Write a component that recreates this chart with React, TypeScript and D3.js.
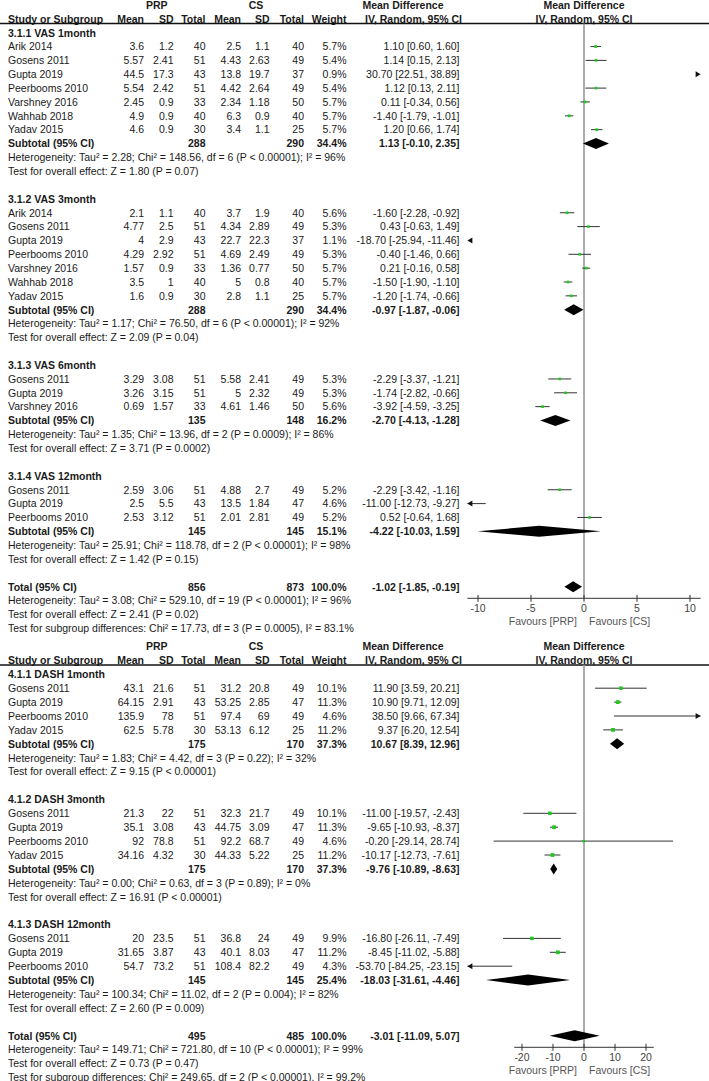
import React from 'react';
import * as d3 from 'd3';

// [study, PRP mean, PRP sd, PRP n, CS mean, CS sd, CS n, weight %, MD, lo, hi]
type Study = [string, number, number, number, number, number, number, number, number, number, number];
// [PRP n, CS n, weight %, MD, lo, hi]
type Sub = [number, number, number, number, number, number];

const vasTitles = ['3.1.1 VAS 1month', '3.1.2 VAS 3month', '3.1.3 VAS 6month', '3.1.4 VAS 12month'];

const vas1: Study[] = [
  ['Arik 2014', 3.6, 1.2, 40, 2.5, 1.1, 40, 5.7, 1.10, 0.60, 1.60],
  ['Gosens 2011', 5.57, 2.41, 51, 4.43, 2.63, 49, 5.4, 1.14, 0.15, 2.13],
  ['Gupta 2019', 44.5, 17.3, 43, 13.8, 19.7, 37, 0.9, 30.70, 22.51, 38.89],
  ['Peerbooms 2010', 5.54, 2.42, 51, 4.42, 2.64, 49, 5.4, 1.12, 0.13, 2.11],
  ['Varshney 2016', 2.45, 0.9, 33, 2.34, 1.18, 50, 5.7, 0.11, -0.34, 0.56],
  ['Wahhab 2018', 4.9, 0.9, 40, 6.3, 0.9, 40, 5.7, -1.40, -1.79, -1.01],
  ['Yadav 2015', 4.6, 0.9, 30, 3.4, 1.1, 25, 5.7, 1.20, 0.66, 1.74],
];
const vas3: Study[] = [
  ['Arik 2014', 2.1, 1.1, 40, 3.7, 1.9, 40, 5.6, -1.60, -2.28, -0.92],
  ['Gosens 2011', 4.77, 2.5, 51, 4.34, 2.89, 49, 5.3, 0.43, -0.63, 1.49],
  ['Gupta 2019', 4, 2.9, 43, 22.7, 22.3, 37, 1.1, -18.70, -25.94, -11.46],
  ['Peerbooms 2010', 4.29, 2.92, 51, 4.69, 2.49, 49, 5.3, -0.40, -1.46, 0.66],
  ['Varshney 2016', 1.57, 0.9, 33, 1.36, 0.77, 50, 5.7, 0.21, -0.16, 0.58],
  ['Wahhab 2018', 3.5, 1, 40, 5, 0.8, 40, 5.7, -1.50, -1.90, -1.10],
  ['Yadav 2015', 1.6, 0.9, 30, 2.8, 1.1, 25, 5.7, -1.20, -1.74, -0.66],
];
const vas6: Study[] = [
  ['Gosens 2011', 3.29, 3.08, 51, 5.58, 2.41, 49, 5.3, -2.29, -3.37, -1.21],
  ['Gupta 2019', 3.26, 3.15, 51, 5, 2.32, 49, 5.3, -1.74, -2.82, -0.66],
  ['Varshney 2016', 0.69, 1.57, 33, 4.61, 1.46, 50, 5.6, -3.92, -4.59, -3.25],
];
const vas12: Study[] = [
  ['Gosens 2011', 2.59, 3.06, 51, 4.88, 2.7, 49, 5.2, -2.29, -3.42, -1.16],
  ['Gupta 2019', 2.5, 5.5, 43, 13.5, 1.84, 47, 4.6, -11.00, -12.73, -9.27],
  ['Peerbooms 2010', 2.53, 3.12, 51, 2.01, 2.81, 49, 5.2, 0.52, -0.64, 1.68],
];
const vasSubs: Sub[] = [
  [288, 290, 34.4, 1.13, -0.10, 2.35],
  [288, 290, 34.4, -0.97, -1.87, -0.06],
  [135, 148, 16.2, -2.70, -4.13, -1.28],
  [145, 145, 15.1, -4.22, -10.03, 1.59],
];
const vasHet = [
  'Heterogeneity: Tau² = 2.28; Chi² = 148.56, df = 6 (P < 0.00001); I² = 96%',
  'Heterogeneity: Tau² = 1.17; Chi² = 76.50, df = 6 (P < 0.00001); I² = 92%',
  'Heterogeneity: Tau² = 1.35; Chi² = 13.96, df = 2 (P = 0.0009); I² = 86%',
  'Heterogeneity: Tau² = 25.91; Chi² = 118.78, df = 2 (P < 0.00001); I² = 98%',
];
const vasZ = [
  'Test for overall effect: Z = 1.80 (P = 0.07)',
  'Test for overall effect: Z = 2.09 (P = 0.04)',
  'Test for overall effect: Z = 3.71 (P = 0.0002)',
  'Test for overall effect: Z = 1.42 (P = 0.15)',
];
const vasTotal: Sub = [856, 873, 100.0, -1.02, -1.85, -0.19];
const vasTotalNotes = [
  'Heterogeneity: Tau² = 3.08; Chi² = 529.10, df = 19 (P < 0.00001); I² = 96%',
  'Test for overall effect: Z = 2.41 (P = 0.02)',
  'Test for subgroup differences: Chi² = 17.73, df = 3 (P = 0.0005), I² = 83.1%',
];
const vasTicks = [-10, -5, 0, 5, 10];

const dashTitles = ['4.1.1 DASH 1month', '4.1.2 DASH 3month', '4.1.3 DASH 12month'];
const dash1: Study[] = [
  ['Gosens 2011', 43.1, 21.6, 51, 31.2, 20.8, 49, 10.1, 11.90, 3.59, 20.21],
  ['Gupta 2019', 64.15, 2.91, 43, 53.25, 2.85, 47, 11.3, 10.90, 9.71, 12.09],
  ['Peerbooms 2010', 135.9, 78, 51, 97.4, 69, 49, 4.6, 38.50, 9.66, 67.34],
  ['Yadav 2015', 62.5, 5.78, 30, 53.13, 6.12, 25, 11.2, 9.37, 6.20, 12.54],
];
const dash3: Study[] = [
  ['Gosens 2011', 21.3, 22, 51, 32.3, 21.7, 49, 10.1, -11.00, -19.57, -2.43],
  ['Gupta 2019', 35.1, 3.08, 43, 44.75, 3.09, 47, 11.3, -9.65, -10.93, -8.37],
  ['Peerbooms 2010', 92, 78.8, 51, 92.2, 68.7, 49, 4.6, -0.20, -29.14, 28.74],
  ['Yadav 2015', 34.16, 4.32, 30, 44.33, 5.22, 25, 11.2, -10.17, -12.73, -7.61],
];
const dash12: Study[] = [
  ['Gosens 2011', 20, 23.5, 51, 36.8, 24, 49, 9.9, -16.80, -26.11, -7.49],
  ['Gupta 2019', 31.65, 3.87, 43, 40.1, 8.03, 47, 11.2, -8.45, -11.02, -5.88],
  ['Peerbooms 2010', 54.7, 73.2, 51, 108.4, 82.2, 49, 4.3, -53.70, -84.25, -23.15],
];
const dashSubs: Sub[] = [
  [175, 170, 37.3, 10.67, 8.39, 12.96],
  [175, 170, 37.3, -9.76, -10.89, -8.63],
  [145, 145, 25.4, -18.03, -31.61, -4.46],
];
const dashHet = [
  'Heterogeneity: Tau² = 1.83; Chi² = 4.42, df = 3 (P = 0.22); I² = 32%',
  'Heterogeneity: Tau² = 0.00; Chi² = 0.63, df = 3 (P = 0.89); I² = 0%',
  'Heterogeneity: Tau² = 100.34; Chi² = 11.02, df = 2 (P = 0.004); I² = 82%',
];
const dashZ = [
  'Test for overall effect: Z = 9.15 (P < 0.00001)',
  'Test for overall effect: Z = 16.91 (P < 0.00001)',
  'Test for overall effect: Z = 2.60 (P = 0.009)',
];
const dashTotal: Sub = [495, 485, 100.0, -3.01, -11.09, 5.07];
const dashTotalNotes = [
  'Heterogeneity: Tau² = 149.71; Chi² = 721.80, df = 10 (P < 0.00001); I² = 99%',
  'Test for overall effect: Z = 0.73 (P = 0.47)',
  'Test for subgroup differences: Chi² = 249.65, df = 2 (P < 0.00001), I² = 99.2%',
];
const dashTicks = [-20, -10, 0, 10, 20];

const FONT = '"Liberation Sans", Arial, sans-serif';
const FS = 10.5;
const TXT = '#1a1a1a';
const GREEN = '#1ec81e';

// right edges of the table columns
const COLS = { m1: 144, s1: 173.5, n1: 205.5, m2: 241, s2: 269.5, n2: 304, w: 346.5, md: 459.5 };

type Row =
  | { kind: 'head'; text: string }
  | { kind: 'study'; s: Study }
  | { kind: 'sub'; s: Sub; label: string }
  | { kind: 'note'; text: string }
  | { kind: 'blank' };

const ci = (md: number, lo: number, hi: number) =>
  `${md.toFixed(2)} [${lo.toFixed(2)}, ${hi.toFixed(2)}]`;

interface PanelProps {
  titles: string[];
  groups: Study[][];
  subs: Sub[];
  het: string[];
  z: string[];
  total: Sub;
  totalNotes: string[];
  ticks: number[];
  domain: [number, number];
  axisExtent: [number, number];
  firstY: number;
  step: number;
}

const Panel: React.FC<PanelProps> = (p) => {
  const rows: Row[] = [];
  p.groups.forEach((g, i) => {
    rows.push({ kind: 'head', text: p.titles[i] });
    g.forEach((s) => rows.push({ kind: 'study', s }));
    rows.push({ kind: 'sub', s: p.subs[i], label: 'Subtotal (95% CI)' });
    rows.push({ kind: 'note', text: p.het[i] });
    rows.push({ kind: 'note', text: p.z[i] });
    rows.push({ kind: 'blank' });
  });
  const totalIdx = rows.length;
  rows.push({ kind: 'sub', s: p.total, label: 'Total (95% CI)' });
  p.totalNotes.forEach((t) => rows.push({ kind: 'note', text: t }));

  const y = d3.scaleLinear().domain([0, 1]).range([p.firstY, p.firstY + p.step]);
  const x = d3.scaleLinear().domain(p.domain).range([467.4, 700.6]);
  const [dMin, dMax] = p.domain;
  const axisY = y(totalIdx) + 11.6;
  const lineY = p.firstY - 9.3;
  const base = 3.8;

  const num = (v: string | number, xr: number, yy: number, bold = false, key?: string) => (
    <text key={key} x={xr} y={yy + base} textAnchor="end" fontWeight={bold ? 'bold' : 'normal'}>
      {v}
    </text>
  );

  const whisker = (s: Study, yy: number) => {
    const [, , , , , , , w, md, lo, hi] = s;
    const els: React.ReactNode[] = [];
    const xl = x(Math.max(lo, dMin));
    const xh = x(Math.min(hi, dMax));
    if (hi < dMin) {
      els.push(<path key="al" d={`M${x(dMin)},${yy}l5,-3v6z`} fill="#111" />);
    } else if (lo > dMax) {
      els.push(<path key="ar" d={`M${x(dMax)},${yy}l-5,-3v6z`} fill="#111" />);
    } else {
      els.push(<line key="l" x1={xl} x2={xh} y1={yy} y2={yy} stroke="#333" strokeWidth={1} />);
      if (lo < dMin) els.push(<path key="al" d={`M${x(dMin)},${yy}l5,-3v6z`} fill="#111" />);
      if (hi > dMax) els.push(<path key="ar" d={`M${x(dMax)},${yy}l-5,-3v6z`} fill="#111" />);
      if (md > dMin && md < dMax) {
        const side = Math.sqrt(w) * 1.12;
        els.push(
          <rect key="sq" x={x(md) - side / 2} y={yy - side / 2} width={side} height={side} fill={GREEN} />
        );
      }
    }
    return els;
  };

  const diamond = (s: Sub, yy: number) => {
    const [, , , md, lo, hi] = s;
    const h = 5.5;
    return (
      <path
        d={`M${x(lo)},${yy}L${x(md)},${yy - h}L${x(hi)},${yy}L${x(md)},${yy + h}Z`}
        fill="#000"
      />
    );
  };

  return (
    <g fontFamily={FONT} fontSize={FS} fill={TXT}>
      {/* column headers */}
      <g fontWeight="bold">
        <text x={156.7} y={p.firstY - 27.7 + base} textAnchor="middle">PRP</text>
        <text x={256} y={p.firstY - 27.7 + base} textAnchor="middle">CS</text>
        <text x={403} y={p.firstY - 27.7 + base} textAnchor="middle">Mean Difference</text>
        <text x={584} y={p.firstY - 27.7 + base} textAnchor="middle">Mean Difference</text>
        <text x={8} y={p.firstY - 14 + base}>Study or Subgroup</text>
        {num('Mean', COLS.m1, p.firstY - 14, true)}
        {num('SD', COLS.s1, p.firstY - 14, true)}
        {num('Total', COLS.n1, p.firstY - 14, true)}
        {num('Mean', COLS.m2, p.firstY - 14, true)}
        {num('SD', COLS.s2, p.firstY - 14, true)}
        {num('Total', COLS.n2, p.firstY - 14, true)}
        {num('Weight', COLS.w, p.firstY - 14, true)}
        <text x={413.5} y={p.firstY - 14 + base} textAnchor="middle">IV, Random, 95% CI</text>
        <text x={584} y={p.firstY - 14 + base} textAnchor="middle">IV, Random, 95% CI</text>
      </g>
      <line x1={0} x2={709} y1={lineY} y2={lineY} stroke="#111" strokeWidth={1.5} />

      {/* zero line */}
      <line x1={x(0)} x2={x(0)} y1={lineY} y2={axisY} stroke="#999" strokeWidth={1.6} />

      {rows.map((r, i) => {
        const yy = y(i);
        if (r.kind === 'head')
          return (
            <text key={i} x={8} y={yy + base} fontWeight="bold">{r.text}</text>
          );
        if (r.kind === 'note')
          return (
            <text key={i} x={8} y={yy + base}>{r.text}</text>
          );
        if (r.kind === 'study') {
          const [name, m1, s1, n1, m2, s2, n2, w, md, lo, hi] = r.s;
          return (
            <g key={i}>
              <text x={8} y={yy + base}>{name}</text>
              {num(m1, COLS.m1, yy)}
              {num(s1, COLS.s1, yy)}
              {num(n1, COLS.n1, yy)}
              {num(m2, COLS.m2, yy)}
              {num(s2, COLS.s2, yy)}
              {num(n2, COLS.n2, yy)}
              {num(`${w.toFixed(1)}%`, COLS.w, yy)}
              {num(ci(md, lo, hi), COLS.md, yy)}
              {whisker(r.s, yy)}
            </g>
          );
        }
        if (r.kind === 'sub') {
          const [n1, n2, w, md, lo, hi] = r.s;
          return (
            <g key={i}>
              <text x={8} y={yy + base} fontWeight="bold">{r.label}</text>
              {num(n1, COLS.n1, yy, true)}
              {num(n2, COLS.n2, yy, true)}
              {num(`${w.toFixed(1)}%`, COLS.w, yy, true)}
              {num(ci(md, lo, hi), COLS.md, yy, true)}
              {diamond(r.s, yy)}
            </g>
          );
        }
        return null;
      })}

      {/* axis */}
      <line
        x1={x(p.axisExtent[0])}
        x2={x(p.axisExtent[1])}
        y1={axisY}
        y2={axisY}
        stroke="#333"
        strokeWidth={1}
      />
      {p.ticks.map((t) => (
        <g key={t}>
          <line x1={x(t)} x2={x(t)} y1={axisY - 3.5} y2={axisY + 3.5} stroke="#333" strokeWidth={1} />
          <text x={x(t)} y={axisY + 9.5 + base} textAnchor="middle" fill="#444">{t}</text>
        </g>
      ))}
      <text x={577} y={axisY + 23 + base} textAnchor="end" fill="#555">Favours [PRP]</text>
      <text x={589} y={axisY + 23 + base} fill="#555">Favours [CS]</text>
    </g>
  );
};

export default function App() {
  return (
    <svg
      width={709}
      height={1081}
      style={{ position: 'absolute', left: 0, top: 0, background: '#fff' }}
    >
      <rect width={709} height={1081} fill="#fff" />
      <Panel
        titles={vasTitles}
        groups={[vas1, vas3, vas6, vas12]}
        subs={vasSubs}
        het={vasHet}
        z={vasZ}
        total={vasTotal}
        totalNotes={vasTotalNotes}
        ticks={vasTicks}
        domain={[-11, 11]}
        axisExtent={[-11, 11]}
        firstY={32.7}
        step={13.85}
      />
      <Panel
        titles={dashTitles}
        groups={[dash1, dash3, dash12]}
        subs={dashSubs}
        het={dashHet}
        z={dashZ}
        total={dashTotal}
        totalNotes={dashTotalNotes}
        ticks={dashTicks}
        domain={[-37.6, 37.6]}
        axisExtent={[-22.5, 22.5]}
        firstY={674.3}
        step={13.9}
      />
    </svg>
  );
}
